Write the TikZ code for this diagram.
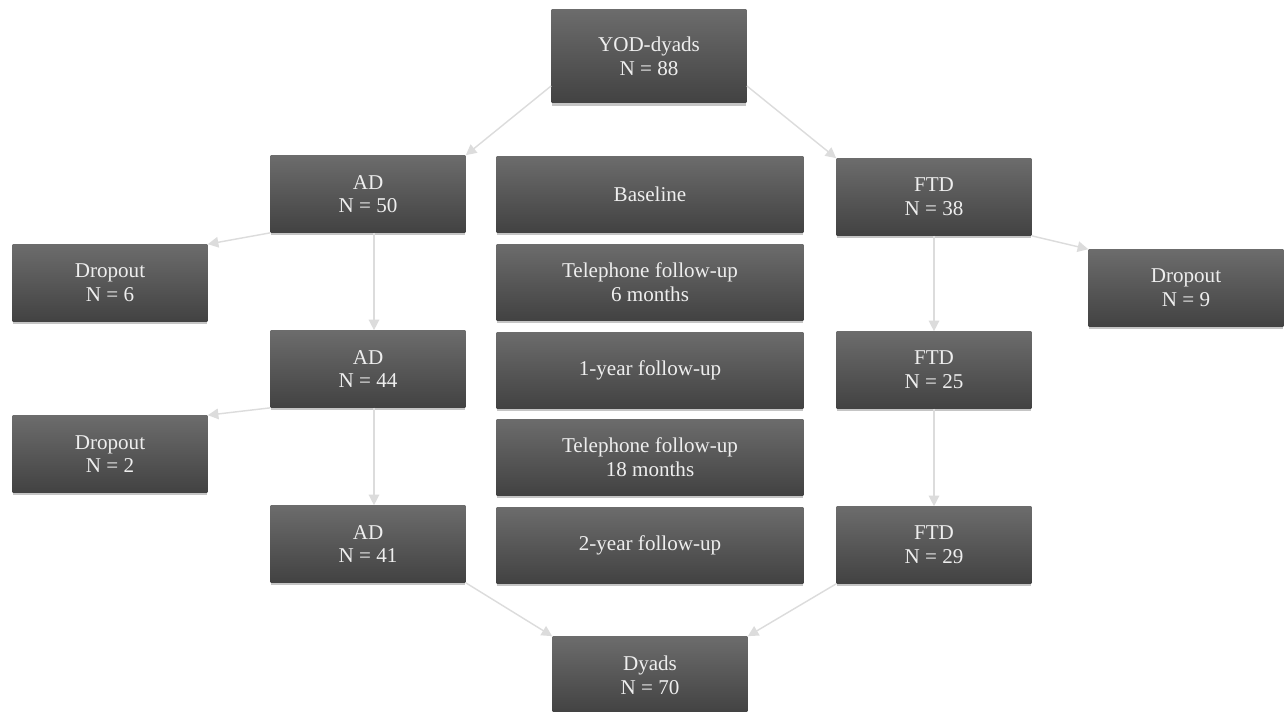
\documentclass[tikz,border=0pt]{standalone}
\usepackage{fontspec}
\setmainfont{Liberation Serif}
\usepackage{tikz}
\usetikzlibrary{arrows.meta, shadows}

\definecolor{boxtop}{RGB}{108,108,108}
\definecolor{boxbottom}{RGB}{66,66,66}
\definecolor{boxtext}{RGB}{238,238,238}
\definecolor{linkgray}{RGB}{220,220,220}

\begin{document}
\begin{tikzpicture}[
    x=0.02cm, y=-0.02cm,
    group/.style={rectangle, top color=boxtop, bottom color=boxbottom, text=boxtext, align=center, inner sep=0pt, minimum width=3.9cm, minimum height=1.54cm, font=\fontsize{12}{13.5}\selectfont, drop shadow={shadow xshift=0pt, shadow yshift=-1.5pt, opacity=0.45}},
    %stage/.style={group, minimum width=6.14cm},
    stage/.style={group, minimum width=6.14cm, minimum height=1.52cm},
    arrow/.style={-{Triangle[width=6pt, length=6pt]}, draw=linkgray, fill=linkgray, line width=0.8pt},
]

%Background
\useasboundingbox[fill=white] (0, 0) rectangle (1288, 711);

% Start
\node[group, minimum height=1.88cm] (yod) at (649, 56) {YOD-dyads\\N = 88};

% AD branch
\node[group] (ad_1) at (368, 194) {AD\\N = 50};
\node[group] (drop_6) at (110, 283) {Dropout\\N = 6};
\node[group] (ad_2) at (368, 369) {AD\\N = 44};
\node[group] (drop_2) at (110, 454) {Dropout\\N = 2};
\node[group] (ad_3) at (368, 544) {AD\\N = 41};

% Time points
\node[stage] (baseline) at (650, 194) {Baseline};
\node[stage] (tel_6) at (650, 282) {Telephone follow-up\\6 months};
\node[stage] (year_1) at (650, 370) {1-year follow-up};
\node[stage] (tel_18) at (650, 457) {Telephone follow-up\\18 months};
\node[stage] (year_2) at (650, 545) {2-year follow-up};

% FTD branch
\node[group] (ftd_1) at (934, 197) {FTD\\N = 38};
\node[group] (drop_9) at (1186, 288) {Dropout\\N = 9};
\node[group] (ftd_2) at (934, 370) {FTD\\N = 25};
\node[group] (ftd_3) at (934, 545) {FTD\\N = 29};

% End
\node[group] (dyads) at (650, 675) {Dyads\\N = 70};

% Arrows
\draw[arrow] (yod.197) -- (ad_1.north east);
\draw[arrow] (yod.343) -- (ftd_1.north west);

% AD branch
\draw[arrow] (ad_1.south west) -- (drop_6.north east);
\draw[arrow] ([xshift=0.12cm]ad_1.south) -- ([xshift=0.12cm]ad_2.north);
\draw[arrow] (ad_2.south west) -- (drop_2.north east);
\draw[arrow] ([xshift=0.12cm]ad_2.south) -- ([xshift=0.12cm]ad_3.north);
\draw[arrow] (ad_3.south east) -- (dyads.north west);

% FTD branch
\draw[arrow] (ftd_1.south east) -- (drop_9.north west);
\draw[arrow] (ftd_1) -- (ftd_2);
\draw[arrow] (ftd_2) -- (ftd_3);
\draw[arrow] (ftd_3.south west) -- (dyads.north east);

\end{tikzpicture}
\end{document}
